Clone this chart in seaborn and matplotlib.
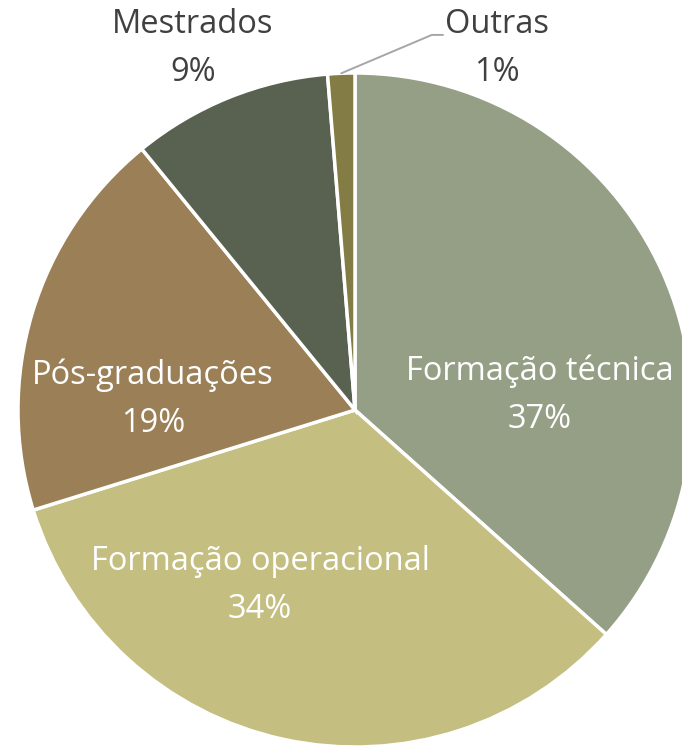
import numpy as np
import matplotlib
matplotlib.use("Agg")
import matplotlib.pyplot as plt
import seaborn as sns

categories = ["Formação técnica", "Formação operacional", "Pós-graduações", "Mestrados", "Outras"]
values = [36.6, 33.6, 18.9, 9.6, 1.3]
pct_labels = ["37%", "34%", "19%", "9%", "1%"]
colors = ["#949F86", "#C4BE80", "#9B8057", "#596250", "#837C44"]

sns.set_theme(style="white")
plt.rcParams["font.family"] = ["Open Sans", "DejaVu Sans"]

fig = plt.figure(figsize=(6.82, 7.49), dpi=100)
ax = fig.add_axes([18 / 682, 2 / 749, 674 / 682, 674 / 749])
wedges, _ = ax.pie(values, colors=colors, startangle=90, counterclock=False,
                   radius=1.0, wedgeprops=dict(edgecolor="white", linewidth=2.5))
ax.set_xlim(-1, 1)
ax.set_ylim(-1, 1)
ax.set_aspect("equal")
ax.axis("off")

# label placement (data units)
label_pos = [(0.549, 0.045), (-0.282, -0.522), (-0.599, 0.033), (-0.481, 1.074), (0.421, 1.074)]
label_color = ["white", "white", "white", "#404040", "#404040"]
for cat, pct, (x, y), c in zip(categories, pct_labels, label_pos, label_color):
    ax.text(x, y, f"{cat}\n{pct}", ha="center", va="center", color=c,
            fontsize=23.5, linespacing=1.6, clip_on=False)

# leader line for "Outras"
w = wedges[4]
mid = np.deg2rad((w.theta1 + w.theta2) / 2)
x0, y0 = np.cos(mid), np.sin(mid)
ax.plot([x0, 0.228, 0.261], [y0, 1.113, 1.113], color="#A6A6A6", lw=1.4, clip_on=False)

fig.savefig("out.png", dpi=100, facecolor="white")
